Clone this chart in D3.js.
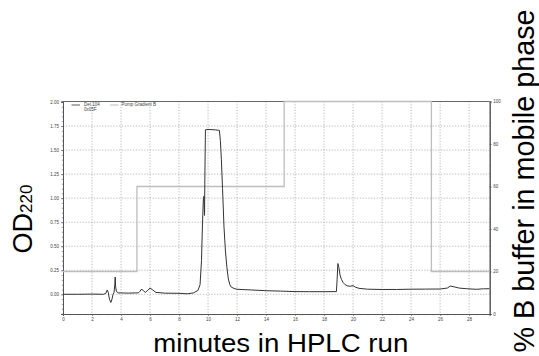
<!DOCTYPE html>
<html>
<head>
<meta charset="utf-8">
<script src="https://cdn.jsdelivr.net/npm/d3@7"></script>
<style>
  body { margin: 0; background: #fff; }
  svg { display: block; font-family: "Liberation Sans", Arial, sans-serif; }
</style>
</head>
<body>
<svg width="539" height="356"></svg>
<script>
// chromatogram (OD220)
const odTime = [0, 1.0, 2.0, 2.8, 2.95, 3.05, 3.12, 3.2, 3.3, 3.38, 3.45, 3.52, 3.57, 3.6, 3.63, 3.68, 3.8,
  4.5, 5.2, 5.3, 5.42, 5.55, 5.68, 5.8, 6.0, 6.15, 6.4, 7.0, 8.0, 8.6, 9.0, 9.3, 9.45, 9.55, 9.62, 9.68,
  9.72, 9.74, 9.76, 9.78, 9.82, 10.0, 10.5, 10.78, 10.85, 10.92, 11.0, 11.1, 11.2, 11.3, 11.4, 11.5, 11.6,
  11.8, 12.0, 13.0, 14.0, 15.0, 16.0, 17.0, 18.0, 18.85, 18.9, 18.95, 19.02, 19.1, 19.2, 19.3, 19.45, 19.6,
  19.8, 20.0, 20.15, 20.4, 21.0, 22.0, 23.0, 24.0, 25.0, 26.0, 26.5, 26.7, 26.9, 27.3, 27.8, 28.5, 29.0, 29.4];
const odValue = [0.0, 0.0, 0.002, 0.0, 0.01, 0.045, 0.02, -0.05, -0.085, -0.05, 0.0, 0.02, 0.10, 0.18, 0.08, 0.03, 0.015,
  0.012, 0.015, 0.03, 0.055, 0.035, 0.02, 0.035, 0.065, 0.05, 0.02, 0.012, 0.01, 0.005, 0.015, 0.04, 0.10, 0.35, 0.75, 1.0,
  1.02, 0.90, 0.82, 1.2, 1.71, 1.715, 1.71, 1.705, 1.6, 1.4, 1.1, 0.7, 0.45, 0.28, 0.16, 0.10, 0.075,
  0.06, 0.052, 0.045, 0.037, 0.033, 0.028, 0.027, 0.027, 0.028, 0.15, 0.32, 0.28, 0.20, 0.155, 0.125, 0.10, 0.088,
  0.083, 0.09, 0.075, 0.062, 0.053, 0.05, 0.05, 0.053, 0.054, 0.055, 0.065, 0.085, 0.08, 0.065, 0.058, 0.052, 0.057, 0.058];

// pump gradient B (%)
const gradTime = [0, 5.1, 5.1, 15.25, 15.25, 25.4, 25.4, 29.42];
const gradValue = [20, 20, 60, 60, 100, 100, 20, 20];

const xTicks = d3.range(0, 29, 2);
const odTicks = [0, 0.25, 0.5, 0.75, 1.0, 1.25, 1.5, 1.75, 2.0];
const pctTicks = [0, 20, 40, 60, 80, 100];
const legendLabels = ["Det 104", "0x05F", "Pump Gradient B"];

const svg = d3.select("svg");
const mLeft = 63, mRight = 489.7, mTop = 101.5, mBottom = 314;

const x = d3.scaleLinear().domain([0, 29.42]).range([mLeft, mRight]);
const y = d3.scaleLinear().domain([-0.205, 2.005]).range([mBottom, mTop]);
const y2 = d3.scaleLinear().domain([0, 100]).range([mBottom, mTop]);

// grid
const grid = svg.append("g")
    .attr("stroke", "#9a9a9a")
    .attr("stroke-width", 0.7)
    .attr("stroke-dasharray", "1.2,1.6");
grid.selectAll(".gx")
    .data(xTicks.filter(d => d > 0))
    .enter().append("line")
    .attr("x1", d => x(d)).attr("x2", d => x(d))
    .attr("y1", mTop).attr("y2", mBottom);
grid.selectAll(".gy")
    .data(odTicks.filter(d => d < 2))
    .enter().append("line")
    .attr("x1", mLeft).attr("x2", mRight)
    .attr("y1", d => y(d)).attr("y2", d => y(d));

// axes
const fs = 4.5;
svg.append("g")
    .attr("transform", `translate(0,${mBottom})`)
    .call(d3.axisBottom(x).tickValues(xTicks).tickSize(2).tickPadding(1.5).tickFormat(d3.format("d")));
svg.append("g")
    .attr("transform", `translate(${mLeft},0)`)
    .call(d3.axisLeft(y).tickValues(odTicks).tickSize(2).tickPadding(2).tickFormat(d3.format(".2f")));
svg.append("g")
    .attr("transform", `translate(${mRight},0)`)
    .call(d3.axisRight(y2).tickValues(pctTicks).tickSize(2).tickPadding(1.5).tickFormat(d3.format("d")));

// minor ticks
svg.append("g")
    .attr("transform", `translate(0,${mBottom})`)
    .call(d3.axisBottom(x).tickValues(d3.range(0, 29.5, 0.5)).tickSize(1.2).tickFormat(""));
svg.append("g")
    .attr("transform", `translate(${mLeft},0)`)
    .call(d3.axisLeft(y).tickValues(d3.range(-0.2, 2.001, 0.05)).tickSize(1.2).tickFormat(""));
svg.append("g")
    .attr("transform", `translate(${mRight},0)`)
    .call(d3.axisRight(y2).tickValues(d3.range(0, 101, 5)).tickSize(1.2).tickFormat(""));

svg.selectAll(".domain").attr("stroke", "#555").attr("stroke-width", 1);
svg.selectAll(".tick line").attr("stroke", "#555").attr("stroke-width", 0.6);
svg.selectAll(".tick text").attr("font-size", fs).attr("fill", "#444")
    .attr("font-family", "'Liberation Sans', Arial, sans-serif");

// top frame
svg.append("line")
    .attr("x1", mLeft).attr("x2", mRight)
    .attr("y1", mTop).attr("y2", mTop)
    .attr("stroke", "#666").attr("stroke-width", 1);

// gradient line
const gradData = gradTime.map((t, i) => [t, gradValue[i]]);
svg.append("path")
    .datum(gradData)
    .attr("fill", "none")
    .attr("stroke", "#bdbdbd")
    .attr("stroke-width", 1.3)
    .attr("d", d3.line().x(d => x(d[0])).y(d => y2(d[1])));

// chromatogram
const odData = odTime.map((t, i) => [t, odValue[i]]);
svg.append("path")
    .datum(odData)
    .attr("fill", "none")
    .attr("stroke", "#333")
    .attr("stroke-width", 1)
    .attr("stroke-linejoin", "round")
    .attr("d", d3.line().x(d => x(d[0])).y(d => y(d[1])));

// legend
const legend = svg.append("g").attr("font-size", fs).attr("fill", "#444");
legend.append("line").attr("x1", 71.5).attr("x2", 80).attr("y1", 105).attr("y2", 105)
    .attr("stroke", "#333").attr("stroke-width", 0.8);
legend.append("text").attr("x", 84).attr("y", 105.5).text(legendLabels[0]);
legend.append("text").attr("x", 84).attr("y", 110.5).text(legendLabels[1]);
legend.append("line").attr("x1", 110).attr("x2", 118.5).attr("y1", 105).attr("y2", 105)
    .attr("stroke", "#aaa").attr("stroke-width", 0.8);
legend.append("text").attr("x", 121.5).attr("y", 105.5).text(legendLabels[2]);

// axis titles
svg.append("text")
    .attr("x", 280.8).attr("y", 351.5)
    .attr("text-anchor", "middle")
    .attr("font-size", 25)
    .attr("textLength", 255).attr("lengthAdjust", "spacingAndGlyphs")
    .text("minutes in HPLC run");

const od = svg.append("text")
    .attr("transform", "translate(32,219) rotate(-90)")
    .attr("text-anchor", "middle")
    .attr("font-size", 27);
od.append("tspan").text("OD");
od.append("tspan").attr("font-size", 17).text("220");

svg.append("text")
    .attr("transform", "translate(533.5,181) rotate(-90)")
    .attr("text-anchor", "middle")
    .attr("font-size", 29)
    .attr("textLength", 343).attr("lengthAdjust", "spacingAndGlyphs")
    .text("% B buffer in mobile phase");
</script>
</body>
</html>
